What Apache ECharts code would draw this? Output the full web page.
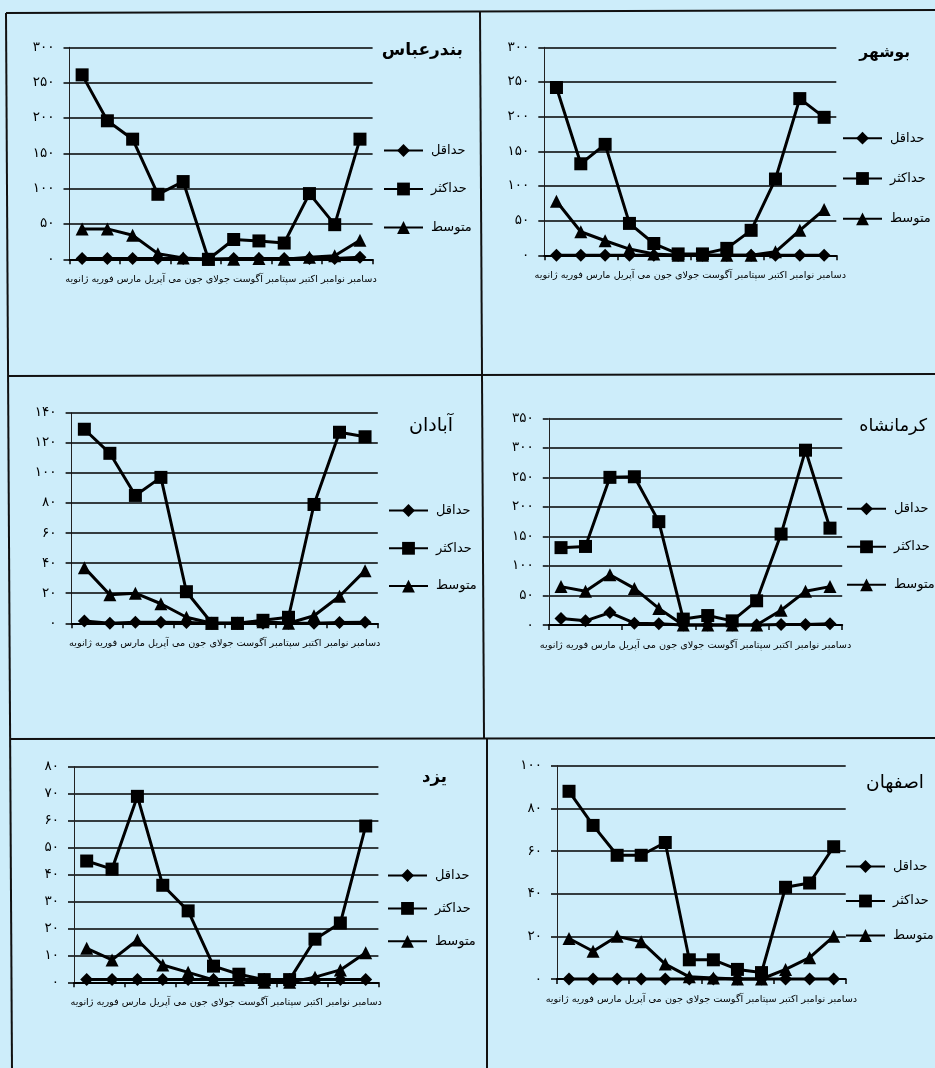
<!DOCTYPE html>
<html>
<head>
<meta charset="utf-8">
<script src="https://cdn.jsdelivr.net/npm/echarts@6/dist/echarts.min.js"></script>
<style>
  html, body { margin: 0; padding: 0; background: #cdedfa; }
  #chart { width: 935px; height: 1068px; }
</style>
</head>
<body>
<div id="chart"></div>
<script>
// Monthly rainfall (mm) at six Iranian stations: minimum, maximum and mean.
const months = ['ژانویه', 'فوریه', 'مارس', 'آپریل', 'می', 'جون', 'جولای', 'آگوست', 'سپتامبر', 'اکتبر', 'نوامبر', 'دسامبر'];
const seriesNames = ['حداقل', 'حداکثر', 'متوسط'];
const cities = ['بندرعباس', 'بوشهر', 'آبادان', 'کرمانشاه', 'یزد', 'اصفهان'];
const yMax = [300, 300, 140, 350, 80, 100];
const yStep = [50, 50, 20, 50, 10, 20];

const bandarAbbasMin = [1, 1, 1, 1, 1, 0, 1, 1, 1, 1, 1, 3];
const bandarAbbasMax = [261, 196, 170, 92, 110, 0, 28, 26, 23, 93, 49, 170];
const bandarAbbasAvg = [43, 43, 34, 8, 2, 0, 0, 1, 0, 3, 5, 27];

const bushehrMin = [0, 0, 0, 0, 0, 0, 0, 0, 0, 0, 0, 0];
const bushehrMax = [242, 132, 160, 46, 17, 2, 2, 10, 36, 110, 226, 199];
const bushehrAvg = [78, 34, 21, 9, 2, 0, 0, 0, 0, 5, 36, 66];

const abadanMin = [1.5, 0, 0.7, 0.7, 0.5, 0, 0, 0, 0, 0, 0.5, 0.7];
const abadanMax = [129, 113, 85, 97, 21, 0, 0, 2, 4, 79, 127, 124];
const abadanAvg = [37, 19, 20, 13, 4, 0, 0, 1, 0, 5, 18, 35];

const kermanshahMin = [11, 7, 21, 3, 2, 0, 0, 0, 0, 1, 1, 2];
const kermanshahMax = [131, 133, 250, 251, 175, 10, 16, 7, 41, 154, 296, 164];
const kermanshahAvg = [65, 57, 85, 62, 28, 0, 0, 0, 0, 25, 57, 65];

const yazdMin = [1, 1, 1, 1, 1, 1, 1, 1, 1, 1, 1, 1];
const yazdMax = [45, 42, 69, 36, 26.5, 6, 3, 1, 1, 16, 22, 58];
const yazdAvg = [12.6, 8.3, 15.7, 6.4, 3.7, 0.9, 0.9, 0, 0, 1.9, 4.6, 11];

const isfahanMin = [0, 0, 0, 0, 0, 0, 0, 0, 0, 0, 0, 0];
const isfahanMax = [88, 72, 58, 58, 64, 9, 9, 4.5, 3, 43, 45, 62];
const isfahanAvg = [19, 13, 20, 17.5, 7, 1, 0.5, 0, 0, 4.5, 10, 20];

const stationSeries = [
  [bandarAbbasMin, bandarAbbasMax, bandarAbbasAvg],
  [bushehrMin, bushehrMax, bushehrAvg],
  [abadanMin, abadanMax, abadanAvg],
  [kermanshahMin, kermanshahMax, kermanshahAvg],
  [yazdMin, yazdMax, yazdAvg],
  [isfahanMin, isfahanMax, isfahanAvg]
];

// Plot boxes, title anchors and legend anchors for each panel (pixels).
const W = 935;
const panels = [
  { l: 69.5, r: 372.6, t: 47.3, b: 259.3, tx: 463, ty: 52, tSize: 17, tBold: true,  lx: 383, ly: 144, gap: 25.5 },
  { l: 544.3, r: 836.3, t: 47.3, b: 255.3, tx: 910, ty: 54, tSize: 15.5, tBold: true,  lx: 842, ly: 131.7, gap: 27.3 },
  { l: 71.6, r: 377.8, t: 412.7, b: 623.3, tx: 453, ty: 428, tSize: 19, tBold: false, lx: 388, ly: 504, gap: 24.8 },
  { l: 548.8, r: 842.2, t: 418.3, b: 625, tx: 927, ty: 428, tSize: 17.5, tBold: false, lx: 846, ly: 502.3, gap: 25 },
  { l: 74, r: 378.4, t: 766.7, b: 982.3, tx: 447, ty: 779, tSize: 16.5, tBold: true,  lx: 387, ly: 869, gap: 19.9 },
  { l: 557, r: 845.7, t: 765.7, b: 979, tx: 924, ty: 785, tSize: 18.5, tBold: false, lx: 845, ly: 860, gap: 21.5 }
];

const FONT = 'DejaVu Sans';
const faDigits = '۰۱۲۳۴۵۶۷۸۹';
const toFa = v => String(v).replace(/\d/g, d => faDigits[d]);
// Month caption reads right-to-left, so December is written first.
const monthCaption = months.slice().reverse().join(' ');
const symbols = ['diamond', 'rect', 'triangle'];

const option = {
  backgroundColor: '#cdedfa',
  animation: false,
  textStyle: { fontFamily: FONT },
  title: panels.map((p, i) => ({
    text: cities[i],
    right: W - p.tx,
    top: p.ty - p.tSize * 0.6,
    padding: 0,
    textStyle: { fontFamily: FONT, fontSize: p.tSize, fontWeight: p.tBold ? 'bold' : 'normal', color: '#000' }
  })),
  legend: panels.map(p => ({
    orient: 'vertical',
    left: p.lx,
    top: p.ly,
    itemWidth: 39,
    itemHeight: 16,
    itemGap: p.gap,
    padding: 0,
    selectedMode: false,
    data: seriesNames,
    textStyle: { fontFamily: FONT, fontSize: 13, color: '#000', padding: [0, 0, 0, 3] }
  })),
  grid: panels.map(p => ({ left: p.l, right: W - p.r, top: p.t, bottom: 1068 - p.b, containLabel: false })),
  xAxis: panels.map((p, i) => ({
    type: 'category',
    gridIndex: i,
    data: months,
    boundaryGap: true,
    axisLabel: { show: false },
    axisTick: { show: true, length: 5, lineStyle: { color: '#000', width: 1.5 } },
    axisLine: { lineStyle: { color: '#000', width: 2 } },
    name: monthCaption,
    nameLocation: 'middle',
    nameGap: 15,
    nameTextStyle: { fontFamily: FONT, fontSize: 9.7, color: '#000' }
  })),
  yAxis: panels.map((p, i) => ({
    type: 'value',
    gridIndex: i,
    min: 0,
    max: yMax[i],
    interval: yStep[i],
    axisLine: { show: true, lineStyle: { color: '#222', width: 1 } },
    axisTick: { show: true, length: 6, lineStyle: { color: '#000', width: 1.5 } },
    splitLine: { show: true, lineStyle: { color: '#000', width: 1.5 } },
    axisLabel: { formatter: toFa, fontFamily: FONT, fontSize: 13.5, color: '#000', margin: 15 }
  })),
  series: [],
  graphic: [
    // panel frame lines
    { type: 'line', shape: { x1: 6, y1: 13, x2: 935, y2: 10 }, style: { stroke: '#111', lineWidth: 2 } },
    { type: 'line', shape: { x1: 6, y1: 13, x2: 12, y2: 1068 }, style: { stroke: '#111', lineWidth: 2 } },
    { type: 'line', shape: { x1: 8, y1: 376, x2: 935, y2: 374 }, style: { stroke: '#111', lineWidth: 2 } },
    { type: 'line', shape: { x1: 10, y1: 739, x2: 935, y2: 738 }, style: { stroke: '#111', lineWidth: 2 } },
    { type: 'line', shape: { x1: 480, y1: 12, x2: 482, y2: 376 }, style: { stroke: '#111', lineWidth: 2 } },
    { type: 'line', shape: { x1: 482, y1: 376, x2: 484, y2: 739 }, style: { stroke: '#111', lineWidth: 2 } },
    { type: 'line', shape: { x1: 487, y1: 739, x2: 487, y2: 1068 }, style: { stroke: '#111', lineWidth: 2 } }
  ]
};

stationSeries.forEach((group, i) => {
  group.forEach((values, k) => {
    option.series.push({
      type: 'line',
      name: seriesNames[k],
      xAxisIndex: i,
      yAxisIndex: i,
      data: values,
      symbol: symbols[k],
      symbolSize: 13,
      showAllSymbol: true,
      clip: false,
      lineStyle: { color: '#000', width: 3 },
      itemStyle: { color: '#000' },
      z: 3 + k
    });
  });
});

const chart = echarts.init(document.getElementById('chart'), null, { renderer: 'canvas' });
chart.setOption(option);
</script>
</body>
</html>
